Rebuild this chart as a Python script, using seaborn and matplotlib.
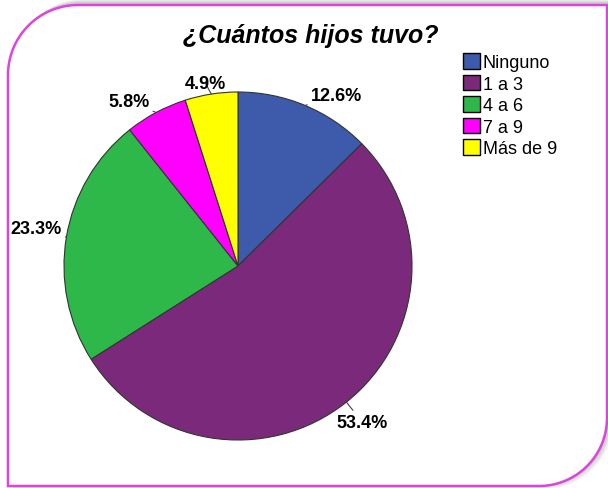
import seaborn as sns
import matplotlib.pyplot as plt
import numpy as np
from matplotlib.patches import Patch, Polygon

# data
categorias = ["Ninguno", "1 a 3", "4 a 6", "7 a 9", "Más de 9"]
porcentajes = [12.6, 53.4, 23.3, 5.8, 4.9]
colores = ["#3D5AAB", "#7B2A7B", "#2EB84A", "#FF00FF", "#FFFF00"]
# label offsets (pixels) from the wedge edge, per slice
offsets = [(31, 10), (16, -20), (-30, 9), (-27, 11), (-6, 11)]

sns.set_theme(style="white")
plt.rcParams["font.family"] = ["Liberation Sans", "DejaVu Sans"]
plt.rcParams["text.color"] = "black"

W, H = 608, 489
fig = plt.figure(figsize=(W / 100, H / 100), dpi=100)
fig.patch.set_facecolor("white")

# background axes in pixel coordinates for the frame
bg = fig.add_axes([0, 0, 1, 1], zorder=0)
bg.set_xlim(0, W)
bg.set_ylim(H, 0)
bg.axis("off")


def frame_points(x0, y0, x1, y1, r_tl, r_br):
    pts = []
    t = np.linspace(np.pi, 1.5 * np.pi, 30)
    pts += list(zip(x0 + r_tl + r_tl * np.cos(t), y0 + r_tl + r_tl * np.sin(t)))
    pts += [(x1, y0)]
    t = np.linspace(0, 0.5 * np.pi, 30)
    pts += list(zip(x1 - r_br + r_br * np.cos(t), y1 - r_br + r_br * np.sin(t)))
    pts += [(x0, y1)]
    return pts


# soft shadow
for i, a in enumerate([0.08, 0.10, 0.12, 0.15]):
    d = 6 - i
    bg.add_patch(Polygon(frame_points(8 + d, 6 - d, 607 + d, 487 + d - 3, 70, 68),
                         closed=True, facecolor="#808080", edgecolor="none", alpha=a))
bg.add_patch(Polygon(frame_points(8, 6, 607, 487, 70, 68), closed=True,
                     facecolor="white", edgecolor="#DD44DD", linewidth=1.8))

# pie
ax = fig.add_axes([64 / W, 48 / H, 348 / W, 348 / H], zorder=1)
wedges, _ = ax.pie(porcentajes, colors=colores, startangle=90, counterclock=False,
                   wedgeprops=dict(edgecolor="#333333", linewidth=0.8))
ax.set_xlim(-1, 1)
ax.set_ylim(-1, 1)
ax.set_aspect("equal")
ax.axis("off")

for w, p, (dx, dy) in zip(wedges, porcentajes, offsets):
    ang = np.deg2rad((w.theta1 + w.theta2) / 2)
    x, y = np.cos(ang), np.sin(ang)
    ax.annotate(f"{p:.1f}%", xy=(x, y), xytext=(dx, dy), textcoords="offset pixels",
                ha="center", va="center", fontsize=13, fontweight="bold",
                color="black", annotation_clip=False,
                arrowprops=dict(arrowstyle="-", color="#444444", lw=0.8,
                                shrinkA=0, shrinkB=0))

fig.text(311 / W, 1 - 36 / H, "¿Cuántos hijos tuvo?", ha="center", va="center",
         fontsize=18, fontweight="bold", fontstyle="italic", color="black")

handles = [Patch(facecolor=c, edgecolor="black", linewidth=1) for c in colores]
leg = fig.legend(handles, categorias, loc="upper left",
                 bbox_to_anchor=(463 / W, 1 - 54 / H),
                 frameon=False, fontsize=13, handlelength=0.95, handleheight=0.95,
                 handletextpad=0.15, labelspacing=0.2, borderpad=0, borderaxespad=0)
for t in leg.get_texts():
    t.set_color("black")

fig.savefig("out.png", dpi=100)
